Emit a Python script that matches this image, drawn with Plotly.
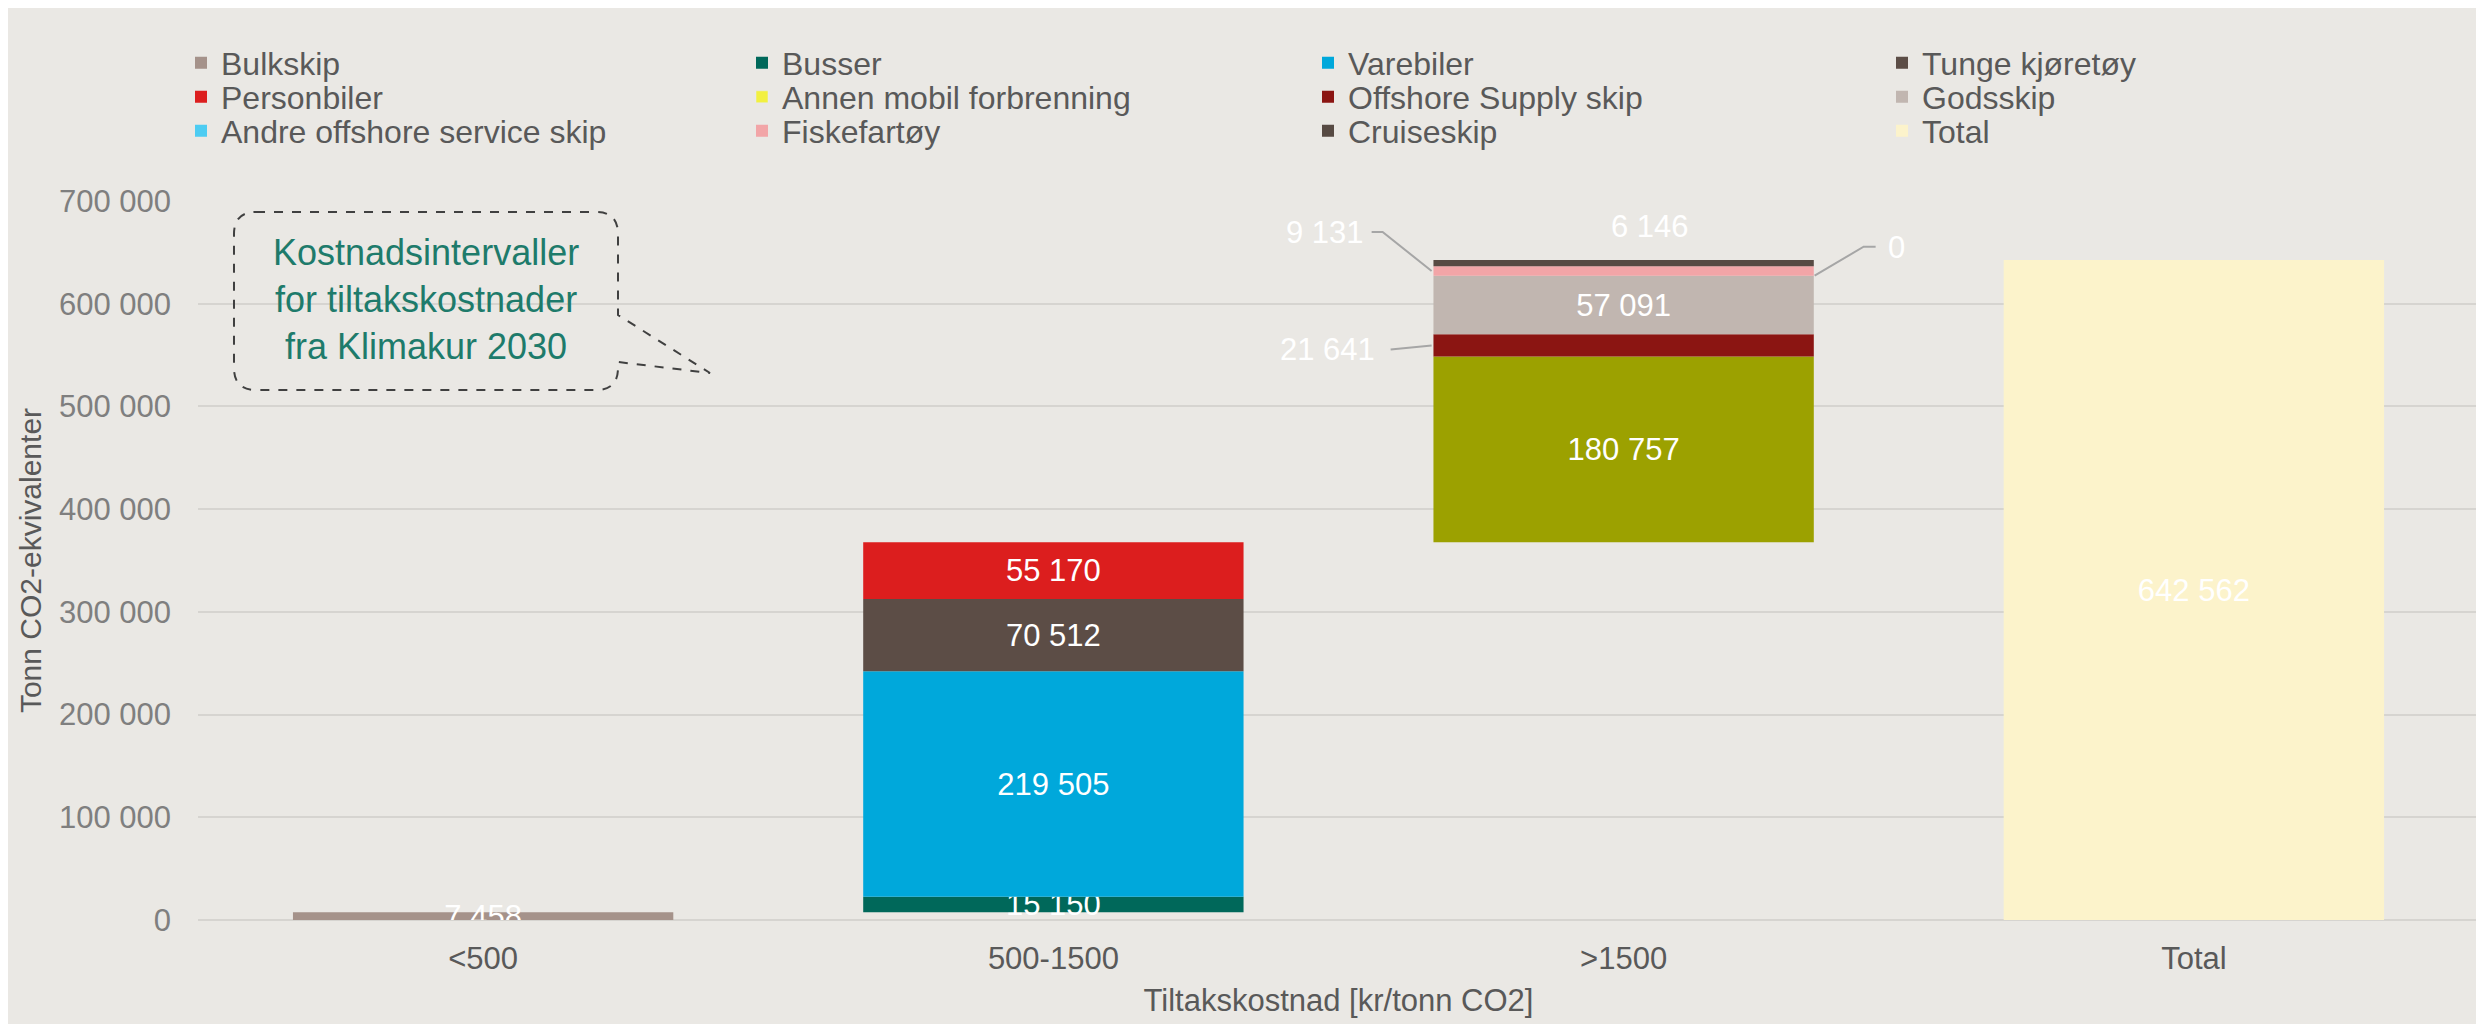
import plotly.graph_objects as go

# ---------------- data ----------------
categories = ["<500", "500-1500", ">1500", "Total"]
series_names = ["Bulkskip", "Busser", "Varebiler", "Tunge kjøretøy", "Personbiler",
                "Annen mobil forbrenning", "Offshore Supply skip", "Godsskip",
                "Andre offshore service skip", "Fiskefartøy", "Cruiseskip", "Total"]
series_category = ["<500", "500-1500", "500-1500", "500-1500", "500-1500",
                   ">1500", ">1500", ">1500", ">1500", ">1500", ">1500", "Total"]
series_values = [7458, 15150, 219505, 70512, 55170,
                 180757, 21641, 57091, 0, 9131, 6146, 642562]
y_ticks = [0, 100000, 200000, 300000, 400000, 500000, 600000, 700000]

# ---------------- styles ----------------
bar_colors = ["#A5928A", "#00685A", "#00A8DB", "#5C4D46", "#DC1E1E",
              "#9CA100", "#8B1512", "#C1B6B0", "#4DCCF2", "#F2A5A7", "#574A43", "#FCF3CB"]
legend_colors = ["#A5928A", "#00685A", "#00A8DB", "#5C4D46", "#DC1E1E",
                 "#F2F040", "#8B1512", "#C1B6B0", "#4DCCF2", "#F2A5A7", "#574A43", "#FCF3CB"]
outside_labels = {  # name: (xshift px, yshift px, xanchor, leader path in px relative to bar center / segment mid)
    "Offshore Supply skip": (-247, -4, "right", "M -233,-4 L -192,0"),
    "Andre offshore service skip": (262, 28, "left", "M 191,0 L 240,29 L 252,29"),
    "Fiskefartøy": (-258, 39, "right", "M -252,39 L -241,39 L -192,0"),
}
top_label_name = "Cruiseskip"

OFF = 8  # page body margin
W, H = 2484, 1024
PL, PR, PT, PB = 198 - OFF, 2479 - OFF, 201 - OFF, 920 - OFF
FONT = "Liberation Sans, Arial, sans-serif"
BG = "#EAE8E4"


def px2paper_x(px):
    return (px - OFF - PL) / (PR - PL)


def px2paper_y(py):
    return (PB - (py - OFF)) / (PB - PT)


def fmt(v):
    return f"{v:,}".replace(",", " ")


# waterfall bases
bases = []
running = 0
for name, v in zip(series_names, series_values):
    if name == "Total":
        bases.append(0)
    else:
        bases.append(running)
        running += v

fig = go.Figure()
annotations = []
shapes = []

for i, (name, cat, v, b) in enumerate(zip(series_names, series_category, series_values, bases)):
    legend_id = "legend" if i == 0 else f"legend{i + 1}"
    inside = name not in outside_labels and name != top_label_name
    same_color = bar_colors[i] == legend_colors[i]
    fig.add_trace(go.Bar(
        x=[cat], y=[v], base=[b], name=name,
        marker=dict(color=bar_colors[i], line=dict(width=0)),
        text=[fmt(v)] if inside else None,
        textposition="inside" if inside else "none",
        insidetextanchor="middle",
        constraintext="none",
        textfont=dict(family=FONT, size=31, color="white"),
        showlegend=same_color, legend=legend_id,
    ))
    if not same_color:
        fig.add_trace(go.Bar(x=[cat], y=[None], name=name,
                             marker=dict(color=legend_colors[i]),
                             showlegend=True, legend=legend_id))
    mid = b + v / 2
    if name in outside_labels:
        xs, ys, xa, path = outside_labels[name]
        annotations.append(dict(x=cat, y=mid, xref="x", yref="y", text=fmt(v), showarrow=False,
                                xshift=xs, yshift=ys, xanchor=xa, yanchor="middle",
                                font=dict(family=FONT, size=31, color="white")))
        shapes.append(dict(type="path", xref="x", yref="y", xsizemode="pixel", ysizemode="pixel",
                           xanchor=cat, yanchor=mid, path=path,
                           line=dict(color="#A6A6A6", width=2)))
    if name == top_label_name:
        annotations.append(dict(x=cat, y=b + v, xref="x", yref="y", text=fmt(v), showarrow=False,
                                xshift=26, yshift=14, yanchor="bottom",
                                font=dict(family=FONT, size=31, color="white")))

# legends: one per entry, placed in a 4-column grid (page pixel positions)
col_px = [181, 742, 1308, 1882]
row_px = [63, 97, 131]
legend_layouts = {}
for i in range(len(series_names)):
    key = "legend" if i == 0 else f"legend{i + 1}"
    legend_layouts[key] = dict(
        x=px2paper_x(col_px[i % 4]), y=px2paper_y(row_px[i // 4]),
        xanchor="left", yanchor="middle", orientation="v",
        bgcolor="rgba(0,0,0,0)", borderwidth=0,
        font=dict(family=FONT, size=32, color="#595959"),
    )

# callout box (page pixel positions)
L, R, T, B, r = 234, 618, 212, 390, 22
tip_x, tip_y, t1, t2 = 710, 373, 315, 362


def P(x, y):
    return f"{px2paper_x(x):.5f},{px2paper_y(y):.5f}"


callout = (f"M {P(L + r, T)} L {P(R - r, T)} Q {P(R, T)} {P(R, T + r)} "
           f"L {P(R, t1)} L {P(tip_x, tip_y)} L {P(R, t2)} L {P(R, B - r)} "
           f"Q {P(R, B)} {P(R - r, B)} L {P(L + r, B)} Q {P(L, B)} {P(L, B - r)} "
           f"L {P(L, T + r)} Q {P(L, T)} {P(L + r, T)} Z")
shapes.append(dict(type="path", xref="paper", yref="paper", path=callout,
                   line=dict(color="#404040", width=2, dash="dash"), fillcolor="rgba(0,0,0,0)"))
annotations.append(dict(x=px2paper_x(426), y=px2paper_y(299), xref="paper", yref="paper",
                        text="Kostnadsintervaller<br>for tiltakskostnader<br>fra Klimakur 2030",
                        showarrow=False, align="center", xanchor="center", yanchor="middle",
                        font=dict(family=FONT, size=36, color="#1E7B6B")))

fig.update_layout(
    width=W, height=H,
    margin=dict(l=PL, r=W - PR, t=PT, b=H - PB, autoexpand=False),
    paper_bgcolor=BG, plot_bgcolor=BG,
    barmode="overlay", bargap=0.333,
    separators=", ",
    font=dict(family=FONT, color="#595959"),
    annotations=annotations, shapes=shapes,
    xaxis=dict(categoryorder="array", categoryarray=categories, range=[-0.5, 3.5],
               tickfont=dict(family=FONT, size=31, color="#595959"),
               ticks="", ticklabelstandoff=17, showgrid=False, showline=False, zeroline=False,
               title=dict(text="Tiltakskostnad [kr/tonn CO2]", standoff=14,
                          font=dict(family=FONT, size=31, color="#595959"))),
    yaxis=dict(range=[0, 700000], tickvals=y_ticks, tickformat=",d",
               tickfont=dict(family=FONT, size=31, color="#7F7F7F"),
               ticks="", ticklabelstandoff=26,
               showgrid=True, gridcolor="#D6D4D0", gridwidth=1.5,
               zeroline=True, zerolinecolor="#D6D4D0", zerolinewidth=1.5, showline=False,
               title=dict(text="Tonn CO2-ekvivalenter", standoff=8,
                          font=dict(family=FONT, size=30, color="#595959"))),
    **legend_layouts,
)

fig.write_html("out.html")
